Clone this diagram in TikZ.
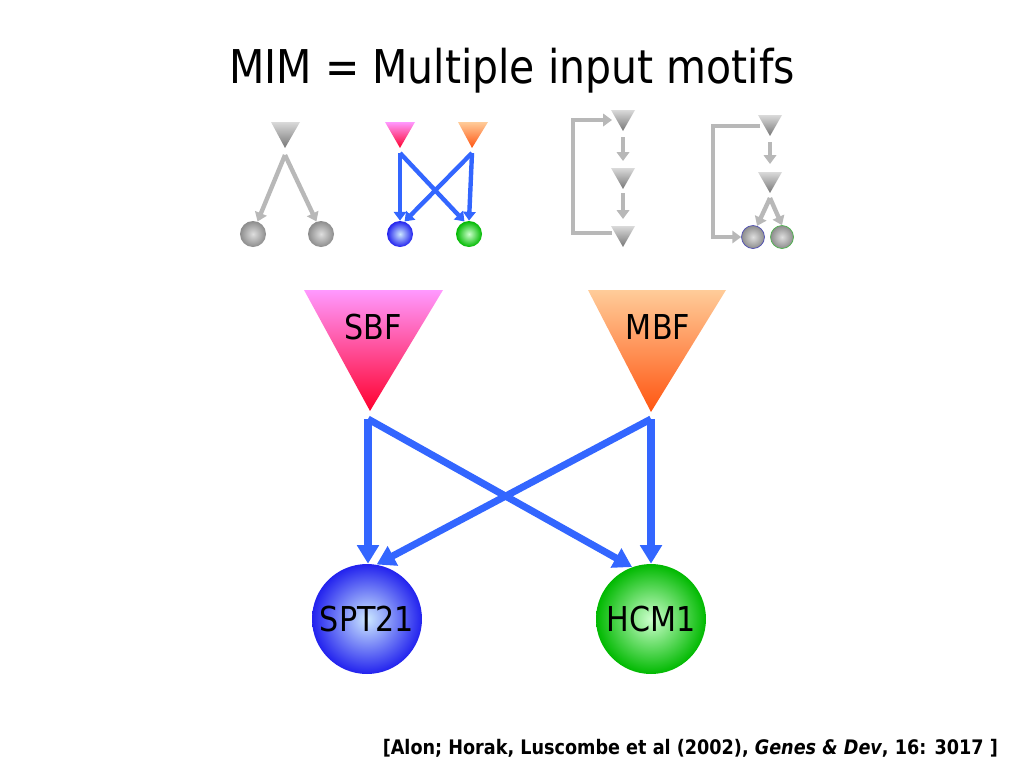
\documentclass[tikz,border=0pt]{standalone}
\usepackage{fontspec}
\setmainfont[FakeStretch=0.88]{DejaVu Sans}
\usetikzlibrary{arrows.meta, calc}

\definecolor{arrowblue}{RGB}{51,102,255}
\definecolor{linegray}{RGB}{184,184,184}
\definecolor{trigraytop}{RGB}{218,218,218}
\definecolor{trigraybot}{RGB}{118,118,118}
\definecolor{ballgraylight}{RGB}{222,222,222}
\definecolor{ballgraydark}{RGB}{140,140,140}
\definecolor{sbftop}{RGB}{255,153,255}
\definecolor{sbfmid}{RGB}{255,95,190}
\definecolor{sbfbot}{RGB}{255,0,45}
\definecolor{mbftop}{RGB}{255,204,153}
\definecolor{mbfmid}{RGB}{255,160,100}
\definecolor{mbfbot}{RGB}{255,85,17}
\definecolor{sptin}{RGB}{204,232,255}
\definecolor{sptout}{RGB}{34,34,238}
\definecolor{hcmin}{RGB}{204,255,204}
\definecolor{hcmout}{RGB}{0,185,0}

\begin{document}
\begin{tikzpicture}[x=0.02cm, y=-0.02cm,
  bigarrow/.style={draw=arrowblue, line width=4pt, -{Triangle[width=12pt,length=10.5pt]}},
  bluearrow/.style={draw=arrowblue, line width=2.5pt, -{Triangle[width=7pt,length=5pt]}},
  grayarrow/.style={draw=linegray, line width=2.5pt, -{Triangle[width=7pt,length=5pt]}},
  bigball/.style={circle, minimum size=2.2cm, inner sep=0pt, font=\fontsize{19.5}{22}\selectfont},
  smallball/.style={circle, minimum size=0.52cm, inner sep=0pt},
  tinyball/.style={circle, minimum size=0.46cm, inner sep=0pt, line width=0.4pt},
  grayball/.style={inner color=ballgraylight, outer color=ballgraydark},
  label/.style={font=\fontsize{19.5}{22}\selectfont}]

\useasboundingbox (0,0) rectangle (1024,768);

\node[anchor=base, font=\fontsize{26.5}{30}\selectfont] (title) at (512,83) {MIM = Multiple input motifs};


\shade[top color=trigraytop, bottom color=trigraybot] (271,122) -- (300,122) -- (285,148) -- cycle;
\coordinate (m1t) at (285,155);
\node[smallball, grayball] (m1a) at (253,234) {};
\node[smallball, grayball] (m1b) at (321,234) {};
\draw[grayarrow] (m1t) -- (m1a.70);
\draw[grayarrow] (m1t) -- (m1b.110);


\shade[top color=sbftop, middle color=sbfmid, bottom color=sbfbot] (385,122) -- (415,122) -- (400,148) -- cycle;
\shade[top color=mbftop, middle color=mbfmid, bottom color=mbfbot] (458,122) -- (488,122) -- (472,148) -- cycle;
\coordinate (m2p) at (400,153);
\coordinate (m2o) at (472,153);
\node[smallball, inner color=sptin, outer color=sptout] (m2a) at (400,234) {};
\node[smallball, inner color=hcmin, outer color=hcmout] (m2b) at (469,234) {};
\draw[bluearrow] (m2p) -- (m2a.north);
\draw[bluearrow] (m2p) -- (m2b.110);
\draw[bluearrow] (m2o) -- (m2a.70);
\draw[bluearrow] (m2o) -- (m2b.north);


\foreach \n/\y in {a/110, b/168, c/226} {
  \shade[top color=trigraytop, bottom color=trigraybot] (611,\y) -- (635,\y) -- (623,\y+21) -- cycle;
  \coordinate (m3\n) at (623,\y);
}
\draw[grayarrow] ($(m3a)+(0,27)$) -- ($(m3b)+(0,-7)$);
\draw[grayarrow] ($(m3b)+(0,25)$) -- ($(m3c)+(0,-7)$);
\draw[grayarrow] ($(m3c)+(-11,7)$) -- ++(-39,0) |- ($(m3a)+(-11,10)$);


\foreach \n/\y in {a/115, b/172} {
  \shade[top color=trigraytop, bottom color=trigraybot] (758,\y) -- (782,\y) -- (770,\y+21) -- cycle;
  \coordinate (m4\n) at (770,\y);
}
\node[tinyball, grayball, draw=blue!40!gray] (m4x) at (753,237) {};
\node[tinyball, grayball, draw=green!40!gray] (m4y) at (782,237) {};
\draw[grayarrow] ($(m4a)+(0,27)$) -- ($(m4b)+(0,-8)$);
\draw[grayarrow] ($(m4b)+(0,26)$) -- (m4x.70);
\draw[grayarrow] ($(m4b)+(0,26)$) -- (m4y.north);
\draw[grayarrow] ($(m4a)+(-10,11)$) -- ++(-47,0) |- (m4x.west);


\shade[top color=sbftop, middle color=sbfmid, bottom color=sbfbot] (304,290) -- (443,290) -- (370,411) -- cycle;
\shade[top color=mbftop, middle color=mbfmid, bottom color=mbfbot] (588,290) -- (726,290) -- (651,412) -- cycle;
\node[label] (SBF) at (373,327) {SBF};
\node[label] (MBF) at (658,327) {MBF};
\coordinate (SBFout) at (368,419);
\coordinate (MBFout) at (651,419);

\node[bigball, inner color=sptin, outer color=sptout] (SPT21) at (367,619) {SPT21};
\node[bigball, inner color=hcmin, outer color=hcmout] (HCM1) at (651,619) {HCM1};

\draw[bigarrow] (SBFout) -- (SBFout |- SPT21.north);
\draw[bigarrow] (SBFout) -- (HCM1.110);
\draw[bigarrow] (MBFout) -- (SPT21.80);
\draw[bigarrow] (MBFout) -- (HCM1.north);


\node[anchor=base east, font=\fontsize{11.4}{13}\selectfont\bfseries] (cite) at (1004,754)
  {[Alon; Horak, Luscombe et al (2002), \textit{Genes \& Dev}, 16: 3017 ]};

\end{tikzpicture}
\end{document}
